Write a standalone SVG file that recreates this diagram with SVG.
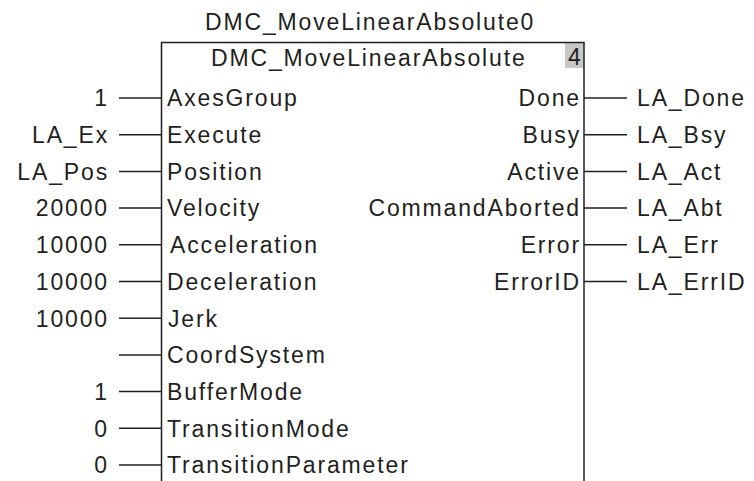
<svg xmlns="http://www.w3.org/2000/svg" width="754" height="481" viewBox="0 0 754 481">
<style>
text{font-family:"Liberation Sans",Arial,sans-serif;font-size:23px;fill:#231f20;letter-spacing:1.85px}
.e{text-anchor:end}
line,path{stroke:#231f20;stroke-width:1.5;fill:none}
</style>
<rect width="754" height="481" fill="#fff"/>
<g id="block">
<text x="205" y="30">DMC_MoveLinearAbsolute0</text>
<rect x="565" y="42" width="19" height="26" fill="#c8c8c8"/>
<path d="M161.5,481 V42.5 H584 V481"/>
<text x="211" y="66">DMC_MoveLinearAbsolute</text>
<text x="568" y="65" style="letter-spacing:0;font-size:23px">4</text>
</g>
<g id="connectors">
<line x1="119" y1="98" x2="161" y2="98"/>
<line x1="119" y1="134.7" x2="161" y2="134.7"/>
<line x1="119" y1="171.4" x2="161" y2="171.4"/>
<line x1="119" y1="208.1" x2="161" y2="208.1"/>
<line x1="119" y1="244.8" x2="161" y2="244.8"/>
<line x1="119" y1="281.5" x2="161" y2="281.5"/>
<line x1="119" y1="318.2" x2="161" y2="318.2"/>
<line x1="119" y1="354.9" x2="161" y2="354.9"/>
<line x1="119" y1="391.6" x2="161" y2="391.6"/>
<line x1="119" y1="428.3" x2="161" y2="428.3"/>
<line x1="119" y1="465" x2="161" y2="465"/>
<line x1="584" y1="98" x2="627" y2="98"/>
<line x1="584" y1="134.7" x2="627" y2="134.7"/>
<line x1="584" y1="171.4" x2="627" y2="171.4"/>
<line x1="584" y1="208.1" x2="627" y2="208.1"/>
<line x1="584" y1="244.8" x2="627" y2="244.8"/>
<line x1="584" y1="281.5" x2="627" y2="281.5"/>
</g>
<g id="inputs">
<text x="167" y="106.3">AxesGroup</text>
<text x="167" y="143">Execute</text>
<text x="167" y="179.7">Position</text>
<text x="167" y="216.4">Velocity</text>
<text x="170" y="253.1">Acceleration</text>
<text x="167" y="289.8">Deceleration</text>
<text x="168" y="326.5">Jerk</text>
<text x="167" y="363.2">CoordSystem</text>
<text x="167" y="399.9">BufferMode</text>
<text x="167" y="436.6">TransitionMode</text>
<text x="167" y="473.3">TransitionParameter</text>
</g>
<g id="input-values">
<text class="e" x="109" y="106.3">1</text>
<text class="e" x="109" y="143">LA_Ex</text>
<text class="e" x="109" y="179.7">LA_Pos</text>
<text class="e" x="109" y="216.4">20000</text>
<text class="e" x="109" y="253.1">10000</text>
<text class="e" x="109" y="289.8">10000</text>
<text class="e" x="109" y="326.5">10000</text>
<text class="e" x="109" y="399.9">1</text>
<text class="e" x="109" y="436.6">0</text>
<text class="e" x="109" y="473.3">0</text>
</g>
<g id="outputs">
<text class="e" x="581" y="106.3">Done</text>
<text class="e" x="581" y="143">Busy</text>
<text class="e" x="581" y="179.7">Active</text>
<text class="e" x="581" y="216.4">CommandAborted</text>
<text class="e" x="581" y="253.1">Error</text>
<text class="e" x="581" y="289.8">ErrorID</text>
</g>
<g id="output-values">
<text x="637" y="106.3">LA_Done</text>
<text x="637" y="143">LA_Bsy</text>
<text x="637" y="179.7">LA_Act</text>
<text x="637" y="216.4">LA_Abt</text>
<text x="637" y="253.1">LA_Err</text>
<text x="637" y="289.8">LA_ErrID</text>
</g>
</svg>
